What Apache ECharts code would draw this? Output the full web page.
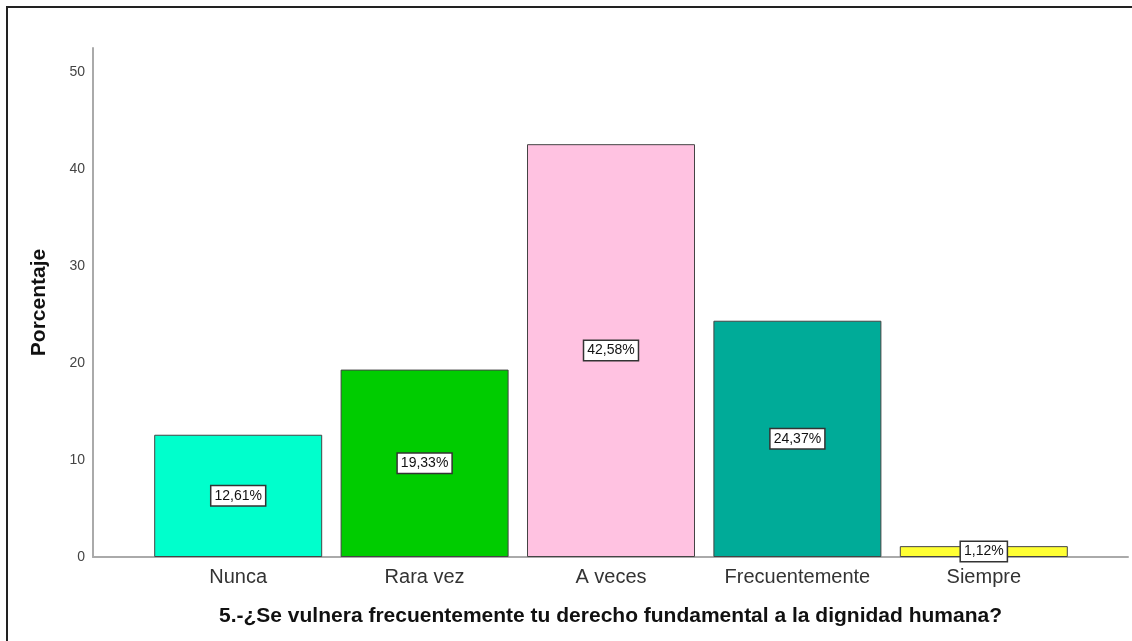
<!DOCTYPE html>
<html>
<head>
<meta charset="utf-8">
<script src="https://cdn.jsdelivr.net/npm/echarts@6/dist/echarts.min.js"></script>
<style>
  html, body { margin: 0; padding: 0; background: #fff; }
  #chart { position: absolute; left: 0; top: 0; width: 1132px; height: 641px; }
  #frame { position: absolute; left: 6px; top: 6px; width: 1130px; height: 640px;
           border-left: 2px solid #222; border-top: 2px solid #222; pointer-events: none; }
</style>
</head>
<body>
<div id="chart"></div>
<div id="frame"></div>
<script>
var categories = ['Nunca', 'Rara vez', 'A veces', 'Frecuentemente', 'Siempre'];
var percentages = [12.61, 19.33, 42.58, 24.37, 1.12];
var barColors = ['#00ffcc', '#00cc00', '#ffc2e1', '#00ab98', '#ffff33'];
var yTicks = [0, 10, 20, 30, 40, 50];

var chartDom = document.getElementById('chart');
var myChart = echarts.init(chartDom);
var option;

var barData = percentages.map(function (v, i) {
  return { value: v, itemStyle: { color: barColors[i] } };
});

option = {
  backgroundColor: '#fff',
  animation: false,
  grid: [
    // outer grid: axis lines only
    { left: 93, right: 4, top: 48, bottom: 84 },
    // inner grid: the bars
    { left: 145, right: 55, top: 48, bottom: 84 }
  ],
  xAxis: [
    {
      gridIndex: 0, type: 'value', min: 0, max: 1,
      axisLine: { show: true, lineStyle: { color: '#aaa', width: 2 } },
      axisTick: { show: false }, axisLabel: { show: false }, splitLine: { show: false },
      name: '5.-¿Se vulnera frecuentemente tu derecho fundamental a la dignidad humana?',
      nameLocation: 'middle', nameGap: 49,
      nameTextStyle: { fontFamily: 'Liberation Sans', fontSize: 21, fontWeight: 'bold', color: '#111' }
    },
    {
      gridIndex: 1, type: 'category', data: categories,
      axisLine: { show: false }, axisTick: { show: false },
      axisLabel: { interval: 0, fontFamily: 'Liberation Sans', fontSize: 20, color: '#333', margin: 10 }
    }
  ],
  yAxis: [
    {
      gridIndex: 0, type: 'value', min: 0, max: 52.5, interval: 10,
      axisLine: { show: true, lineStyle: { color: '#aaa', width: 2 } },
      axisTick: { show: false }, splitLine: { show: false },
      axisLabel: {
        showMaxLabel: false, fontFamily: 'Liberation Sans', fontSize: 14, color: '#444', margin: 8,
        padding: [6, 0, 0, 0],
        formatter: function (v) { return yTicks.indexOf(v) >= 0 ? String(v) : ''; }
      },
      name: 'Porcentaje', nameLocation: 'middle', nameGap: 43, nameRotate: 90,
      nameTextStyle: { fontFamily: 'Liberation Sans', fontSize: 21, fontWeight: 'bold', color: '#111' }
    },
    {
      gridIndex: 1, type: 'value', min: 0, max: 52.5, interval: 10, show: false
    }
  ],
  series: [
    {
      type: 'bar',
      xAxisIndex: 1, yAxisIndex: 1,
      data: barData,
      barWidth: 168,
      itemStyle: { borderColor: '#444', borderWidth: 1 },
      label: {
        show: true, position: 'inside',
        formatter: function (p) { return p.value.toFixed(2).replace('.', ',') + '%'; },
        fontFamily: 'Liberation Sans', fontSize: 14, color: '#111',
        backgroundColor: '#fff', borderColor: '#333', borderWidth: 1.5,
        padding: [3, 3, 2, 3]
      }
    }
  ]
};
option && myChart.setOption(option);
</script>
</body>
</html>
